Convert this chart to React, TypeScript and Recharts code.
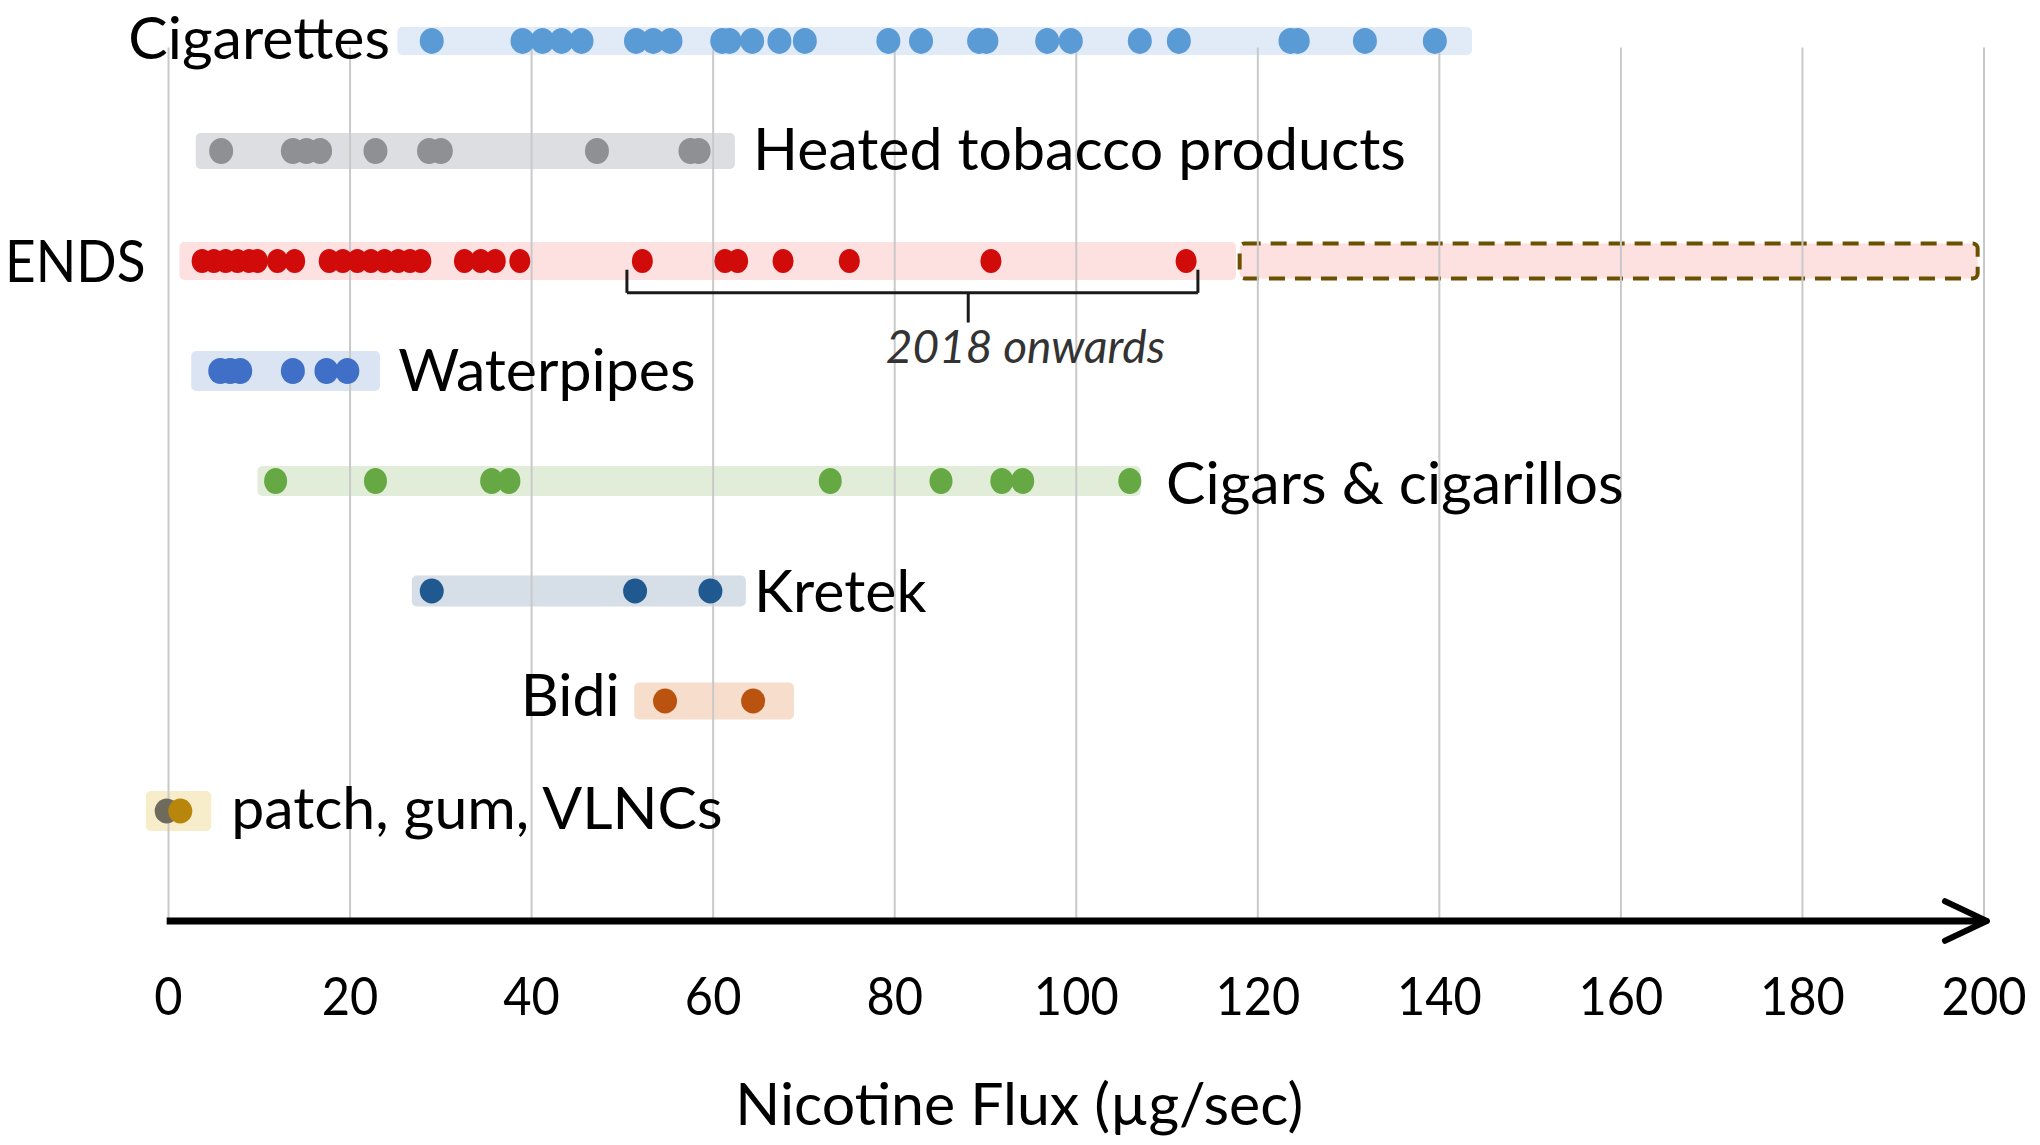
import React from "react";
import {
  ScatterChart,
  Scatter,
  XAxis,
  YAxis,
  ReferenceArea,
  ReferenceLine,
} from "recharts";

// rows, top to bottom
const rowNames = [
  "Cigarettes",
  "Heated tobacco products",
  "ENDS",
  "Waterpipes",
  "Cigars & cigarillos",
  "Kretek",
  "Bidi",
  "patch, gum, VLNCs",
];

// nicotine flux values (µg/sec)
const cigarettes = [
  29.0, 39.0, 41.2, 43.3, 45.5, 51.5, 53.4, 55.3, 61.0, 61.8, 64.3, 67.3, 70.1,
  79.3, 82.9, 89.3, 90.1, 96.8, 99.4, 107.0, 111.3, 123.6, 124.4, 131.8, 139.5,
];
const heatedTobacco = [5.8, 13.7, 15.2, 16.7, 22.8, 28.7, 30.0, 47.2, 57.5, 58.4];
const endsBefore2018 = [
  3.7, 5.0, 6.3, 7.6, 8.9, 9.8, 12.0, 13.9, 17.7, 19.2, 20.8, 22.3, 23.8, 25.3,
  26.6, 27.8, 32.6, 34.4, 36.0, 38.7,
];
const ends2018Onwards = [52.2, 61.3, 62.7, 67.7, 75.0, 90.6, 112.1];
const waterpipes = [5.7, 6.8, 7.9, 13.7, 17.4, 19.7];
const cigars = [11.8, 22.8, 35.6, 37.5, 72.9, 85.1, 91.8, 94.1, 105.9];
const kretek = [29.0, 51.4, 59.7];
const bidi = [54.7, 64.4];
const patchGum = [-0.2];
const vlncs = [1.3];

// shaded range of each row
const rangeMin = [25.2, 3.0, 1.2, 2.5, 9.8, 26.8, 51.3, -2.5];
const rangeMax = [143.6, 62.4, 117.6, 23.3, 107.1, 63.6, 68.9, 4.7];

// dashed ENDS projection box and the "2018 onwards" brace
const endsProjection = [118.0, 199.3];
const onwardsBrace = [50.5, 88.1, 113.4];

const xTicks = [0, 20, 40, 60, 80, 100, 120, 140, 160, 180, 200];

// layout
const W = 2040;
const H = 1145;
const X_DOMAIN: [number, number] = [-18, 205];
const Y_DOMAIN: [number, number] = [-0.372, 8];
const PLOT_BOTTOM = 921;
const ROW_PX = PLOT_BOTTOM / (Y_DOMAIN[1] - Y_DOMAIN[0]);
const FONT = "Lato, 'Open Sans', sans-serif";
const TICK_SQUEEZE = 0.92;
const TICK_SIZE = 53;
const LABEL_SIZE = 59;

const rowStyle = [
  { band: "#e1ebf7", bandH: 28 },
  { band: "#dcdee2", bandH: 36 },
  { band: "#fde0e0", bandH: 38 },
  { band: "#dbe4f2", bandH: 40 },
  { band: "#e1ecd9", bandH: 30 },
  { band: "#d6dee8", bandH: 31 },
  { band: "#f7ddcc", bandH: 37 },
  { band: "#f8edcb", bandH: 40 },
];

const dotSeries = [
  { name: "cigarettes", row: 0, values: cigarettes, color: "#5b9bd5", rx: 12, ry: 13 },
  { name: "heated", row: 1, values: heatedTobacco, color: "#8e9093", rx: 12, ry: 13 },
  { name: "endsOld", row: 2, values: endsBefore2018, color: "#d10a0a", rx: 10.5, ry: 12 },
  { name: "endsNew", row: 2, values: ends2018Onwards, color: "#d10a0a", rx: 10.5, ry: 12 },
  { name: "waterpipes", row: 3, values: waterpipes, color: "#3f6fc6", rx: 12, ry: 13 },
  { name: "cigars", row: 4, values: cigars, color: "#66a844", rx: 11.5, ry: 13 },
  { name: "kretek", row: 5, values: kretek, color: "#20598f", rx: 12, ry: 12.5 },
  { name: "bidi", row: 6, values: bidi, color: "#b9530f", rx: 12, ry: 12.5 },
  { name: "patch", row: 7, values: patchGum, color: "#6e6a5c", rx: 12, ry: 12.5 },
  { name: "vlnc", row: 7, values: vlncs, color: "#b8860b", rx: 12, ry: 12.5 },
];

// text annotations: anchor value on the x axis, row, text alignment
const labels = [
  { x: 24.4, y: 0, text: rowNames[0], anchor: "end", nudge: -3 },
  { x: 64.4, y: 1, text: rowNames[1], anchor: "start", nudge: -2 },
  { x: -18, y: 2, text: rowNames[2], anchor: "start", nudge: 0 },
  { x: 25.3, y: 3, text: rowNames[3], anchor: "start", nudge: -1 },
  { x: 109.9, y: 4, text: rowNames[4], anchor: "start", nudge: 2 },
  { x: 64.5, y: 5, text: rowNames[5], anchor: "start", nudge: 0 },
  { x: 49.7, y: 6, text: rowNames[6], anchor: "end", nudge: -6 },
  { x: 6.9, y: 7, text: rowNames[7], anchor: "start", nudge: -3 },
];
const noteLabel = [{ x: 94.4, y: 2.78, text: "2018 onwards" }];

// per-label horizontal squeeze to match the narrower original lettering
const labelSqueeze: Record<string, number> = { ENDS: 0.9 };

const roundRect = (fill: string, stroke?: string) => (p: any) => (
  <rect
    x={p.x}
    y={p.y}
    width={p.width}
    height={p.height}
    rx={5}
    ry={5}
    fill={fill}
    stroke={stroke || "none"}
    strokeWidth={stroke ? 4 : 0}
    strokeDasharray={stroke ? "16 10" : undefined}
  />
);

const XTick = (p: any) => (
  <text
    transform={`translate(${p.x},${p.y + 94}) scale(${TICK_SQUEEZE},1)`}
    textAnchor="middle"
    fontFamily={FONT}
    fontSize={TICK_SIZE}
    fill="#000"
  >
    {p.payload.value}
  </text>
);

const AxisTitle = (p: any) => {
  const vb = p.viewBox || {};
  return (
    <text
      x={vb.x + vb.width / 2 + 2}
      y={vb.y + 204}
      textAnchor="middle"
      fontFamily={FONT}
      fontSize={LABEL_SIZE}
      fill="#000"
    >
      Nicotine Flux (µg/sec)
    </text>
  );
};

const RowLabel = (p: any) => {
  const d = p.payload;
  const sx = labelSqueeze[d.text] || 1;
  return (
    <text
      transform={`translate(${p.cx},${p.cy + 21 + d.nudge}) scale(${sx},1)`}
      textAnchor={d.anchor}
      fontFamily={FONT}
      fontSize={LABEL_SIZE}
      fill="#000"
    >
      {d.text}
    </text>
  );
};

export default function App() {
  return (
    <div style={{ width: W, height: H, background: "#fff" }}>
      <style>{"body{margin:0}"}</style>
      <ScatterChart
        width={W}
        height={H}
        margin={{ top: 0, right: 10.6, bottom: 24, left: 5.1 }}
      >
        <XAxis
          type="number"
          dataKey="x"
          domain={X_DOMAIN}
          ticks={xTicks}
          interval={0}
          axisLine={false}
          tickLine={false}
          tickSize={0}
          tickMargin={0}
          height={200}
          tick={<XTick />}
          label={<AxisTitle />}
        />
        <YAxis type="number" dataKey="y" domain={Y_DOMAIN} reversed hide />

        {rangeMin.map((lo, i) => (
          <ReferenceArea
            key={`band-${i}`}
            x1={lo}
            x2={rangeMax[i]}
            y1={i - rowStyle[i].bandH / 2 / ROW_PX}
            y2={i + rowStyle[i].bandH / 2 / ROW_PX}
            ifOverflow="visible"
            shape={roundRect(rowStyle[i].band)}
          />
        ))}
        <ReferenceArea
          x1={endsProjection[0]}
          x2={endsProjection[1]}
          y1={2 - 17.5 / ROW_PX}
          y2={2 + 17.5 / ROW_PX}
          ifOverflow="visible"
          shape={roundRect("#fde0e0", "#6b5000")}
        />

        {xTicks.map((t) => (
          <ReferenceLine
            key={`grid-${t}`}
            segment={[
              { x: t, y: 0.06 },
              { x: t, y: 8 },
            ]}
            stroke="#c9c9c9"
            strokeWidth={2}
            ifOverflow="visible"
          />
        ))}

        {/* x axis arrow */}
        <ReferenceLine
          segment={[
            { x: -0.2, y: 8 },
            { x: 200.1, y: 8 },
          ]}
          stroke="#000"
          strokeWidth={7}
          ifOverflow="visible"
        />
        <ReferenceLine
          segment={[
            { x: 195.7, y: 7.82 },
            { x: 200.3, y: 8 },
          ]}
          stroke="#000"
          strokeWidth={6}
          strokeLinecap="round"
          ifOverflow="visible"
        />
        <ReferenceLine
          segment={[
            { x: 195.7, y: 8.18 },
            { x: 200.3, y: 8 },
          ]}
          stroke="#000"
          strokeWidth={6}
          strokeLinecap="round"
          ifOverflow="visible"
        />

        {/* 2018 onwards brace */}
        <ReferenceLine
          segment={[
            { x: onwardsBrace[0], y: 2.08 },
            { x: onwardsBrace[0], y: 2.29 },
          ]}
          stroke="#1a1a1a"
          strokeWidth={3}
          ifOverflow="visible"
        />
        <ReferenceLine
          segment={[
            { x: onwardsBrace[0], y: 2.29 },
            { x: onwardsBrace[2], y: 2.29 },
          ]}
          stroke="#1a1a1a"
          strokeWidth={3}
          ifOverflow="visible"
        />
        <ReferenceLine
          segment={[
            { x: onwardsBrace[2], y: 2.08 },
            { x: onwardsBrace[2], y: 2.29 },
          ]}
          stroke="#1a1a1a"
          strokeWidth={3}
          ifOverflow="visible"
        />
        <ReferenceLine
          segment={[
            { x: onwardsBrace[1], y: 2.29 },
            { x: onwardsBrace[1], y: 2.56 },
          ]}
          stroke="#1a1a1a"
          strokeWidth={3}
          ifOverflow="visible"
        />

        {dotSeries.map((s) => (
          <Scatter
            key={s.name}
            name={s.name}
            data={s.values.map((v) => ({ x: v, y: s.row }))}
            isAnimationActive={false}
            shape={(p: any) => (
              <ellipse cx={p.cx} cy={p.cy} rx={s.rx} ry={s.ry} fill={s.color} />
            )}
          />
        ))}

        <Scatter
          name="labels"
          data={labels}
          isAnimationActive={false}
          shape={(p: any) => <RowLabel {...p} />}
        />
        <Scatter
          name="note"
          data={noteLabel}
          isAnimationActive={false}
          shape={(p: any) => (
            <text
              x={p.cx}
              y={p.cy + 16}
              textAnchor="middle"
              fontFamily={FONT}
              fontStyle="italic"
              fontSize={46}
              fill="#333"
            >
              {p.payload.text}
            </text>
          )}
        />
      </ScatterChart>
    </div>
  );
}
